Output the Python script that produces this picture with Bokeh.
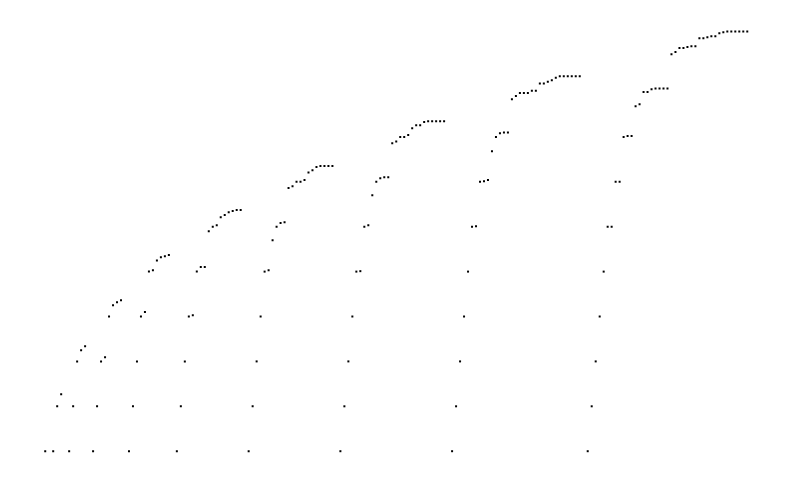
import math
from bokeh.plotting import figure
from bokeh.models import Range1d, ColumnDataSource
from bokeh.embed import file_html
from bokeh.resources import INLINE

NAN = float("nan")

# one value per index; NaN marks the missing point between runs
run0 = [1.00]
run1 = [1.00, 2.00, 2.27]
run2 = [1.00, 2.00, 3.00, 3.25, 3.34]
run3 = [1.00, 2.00, 3.00, 3.09, 4.00, 4.25, 4.32, 4.36]
run4 = [1.00, 2.00, 3.00, 4.00, 4.10, 5.00, 5.03, 5.25, 5.32, 5.34, 5.37]
run5 = [1.00, 2.00, 3.00, 4.00, 4.03, 5.00, 5.10, 5.10, 5.90, 6.00, 6.03,
        6.21, 6.26, 6.32, 6.35, 6.37, 6.37]
run6 = [1.00, 2.00, 3.00, 4.00, 5.00, 5.03, 5.70, 6.00, 6.08, 6.10, 6.86,
        6.90, 7.00, 7.00, 7.04, 7.21, 7.26, 7.33, 7.35, 7.35, 7.35, 7.35]
run7 = [1.00, 2.00, 3.00, 4.00, 5.00, 5.01, 6.00, 6.03, 6.70, 7.00, 7.08,
        7.10, 7.10, 7.86, 7.90, 8.00, 8.00, 8.04, 8.19, 8.26, 8.26, 8.33,
        8.35, 8.35, 8.35, 8.35, 8.35]
run8 = [1.00, 2.00, 3.00, 4.00, 5.00, 6.00, 6.01, 7.00, 7.01, 7.04, 7.68,
        8.00, 8.08, 8.10, 8.10, 8.84, 8.91, 8.98, 8.98, 8.98, 9.03, 9.03,
        9.19, 9.19, 9.23, 9.26, 9.32, 9.35, 9.35, 9.35, 9.35, 9.35, 9.35]
run9 = [1.00, 2.00, 3.00, 4.00, 5.00, 6.00, 6.00, 7.00, 7.00, 8.00, 8.02,
        8.02, 8.68, 8.73, 9.00, 9.00, 9.06, 9.08, 9.08, 9.08, 9.08, 9.84,
        9.89, 9.98, 9.98, 10.00, 10.02, 10.02, 10.20, 10.20, 10.22, 10.24,
        10.24, 10.31, 10.33, 10.35, 10.35, 10.35, 10.35, 10.35, 10.35]

runs = [run0, run1, run2, run3, run4, run5, run6, run7, run8, run9]

ys = []
for i, r in enumerate(runs):
    if i > 0:
        ys.append(NAN)
    ys.extend(r)
xs = list(range(len(ys)))

src = ColumnDataSource(dict(x=xs, y=ys))

p = figure(width=792, height=482, output_backend="svg", toolbar_location=None,
           x_range=Range1d(-11.21, 187.34), y_range=Range1d(0.303, 11.038),
           min_border=0, min_border_left=0, min_border_right=0,
           min_border_top=0, min_border_bottom=0)
p.axis.visible = False
p.grid.visible = False
p.outline_line_color = None
p.background_fill_color = "white"
p.border_fill_color = "white"

p.scatter("x", "y", source=src, marker="square", size=2,
          fill_color="black", line_color=None)

open("out.html", "w").write(file_html(p, INLINE))
